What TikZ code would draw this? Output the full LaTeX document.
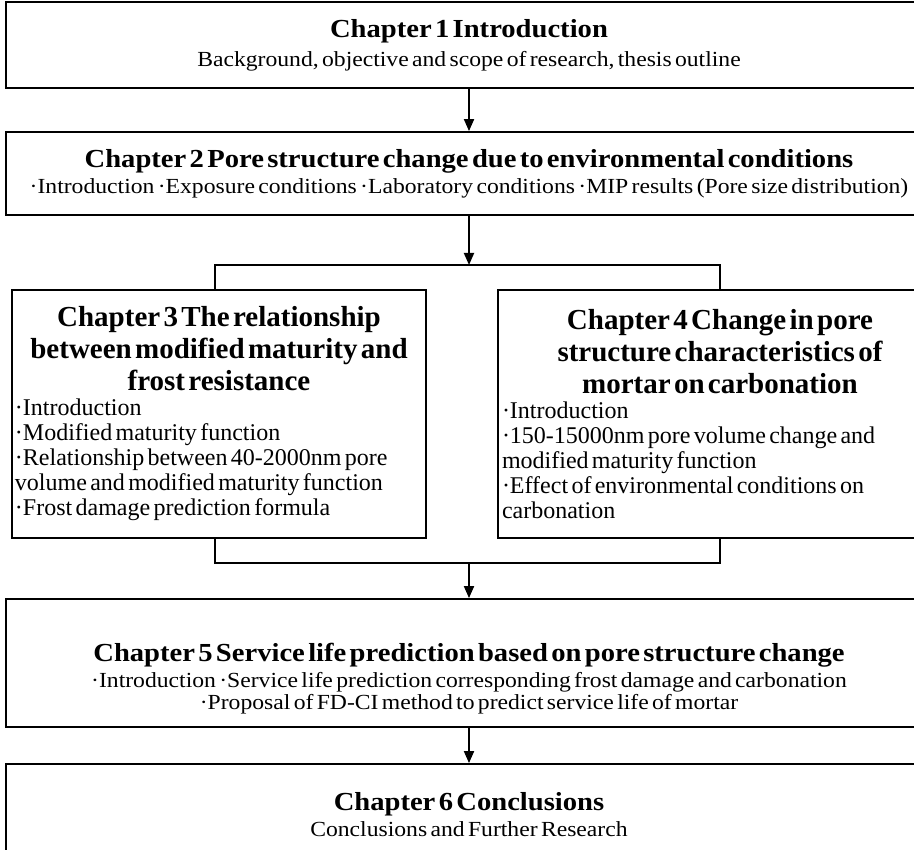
\documentclass[tikz,border=0pt]{standalone}
\usepackage{fontspec}
\setmainfont{Liberation Serif}
\newfontfamily\wideserif[FakeStretch=1.1, WordSpace=1.4]{Liberation Serif}
\newfontfamily\sideserif[WordSpace=1.5]{Liberation Serif}
\usetikzlibrary{arrows.meta,positioning,calc}

% text looks of the full-width chapter boxes and of the two side boxes
\newcommand\chaptitle{\wideserif\bfseries\fontsize{26}{28}\selectfont}
\newcommand\chapbody{\wideserif\mdseries\fontsize{21.5}{22}\selectfont}
\newcommand\sidetitle{\sideserif\bfseries\fontsize{29}{32}\selectfont}
\newcommand\sidebody{\normalfont\fontsize{24}{25}\selectfont}

\begin{document}
\begin{tikzpicture}[
  x=1pt, y=1pt,
  >={Triangle[width=10pt,length=12pt]},
  every node/.style={inner sep=0pt},
  wide/.style={draw, line width=1.8pt, minimum width=926pt, text width=900pt, align=center},
  side/.style={draw, line width=1.8pt, minimum height=248pt, align=left},
  link/.style={line width=1.8pt},
  flow/.style={line width=1.8pt, ->}
]
\useasboundingbox (0,0) rectangle (914,-850);
\clip (0,0) rectangle (914,-850);

% full-width chapters (right edges run off the page)
\node[wide, minimum height=86pt] (ch1) at (469,-45)
  {\chaptitle Chapter 1 Introduction\par\vspace{7pt}
   \chapbody Background, objective and scope of research, thesis outline\par};
\node[wide, minimum height=83pt] (ch2) at (469,-173.5)
  {\chaptitle Chapter 2 Pore structure change due to environmental conditions\par\vspace{4pt}
   \chapbody ·Introduction ·Exposure conditions ·Laboratory conditions ·MIP results (Pore size distribution)\par};

% the two parallel chapters
\node[side, minimum width=414pt, text width=408pt] (ch3) at (219,-414)
  {{\centering\sidetitle Chapter 3 The relationship\\ between modified maturity and\\ frost resistance\par}
   \sidebody ·Introduction\\ ·Modified maturity function\\ ·Relationship between 40-2000nm pore\\
   volume and modified maturity function\\ ·Frost damage prediction formula\par};
\node[side, minimum width=444pt, text width=436pt] (ch4) at (720,-414)
  {{\centering\sidetitle Chapter 4 Change in pore\\ structure characteristics of\\ mortar on carbonation\par}
   \sidebody ·Introduction\\ ·150-15000nm pore volume change and\\ modified maturity function\\
   ·Effect of environmental conditions on\\ carbonation\par};

% the strut pushes chapter 5's lines into the lower half of its box
\node[wide, minimum height=128pt] (ch5) at (469,-663)
  {\chaptitle\rule{0pt}{50pt}Chapter 5 Service life prediction based on pore structure change\par\vspace{4pt}
   \chapbody ·Introduction ·Service life prediction corresponding frost damage and carbonation\\
   ·Proposal of FD-CI method to predict service life of mortar\par};
\node[wide, minimum height=102pt] (ch6) at (469,-815)
  {\chaptitle Chapter 6 Conclusions\par\vspace{4pt}
   \chapbody Conclusions and Further Research\par};

% split and merge rails
\coordinate (split) at (469,-265);
\coordinate (merge) at (469,-563);
\coordinate (lrail) at (215,-265);

\draw[flow] (ch1.south) -- (ch2.north);
\draw[flow] (ch2.south) -- (split);
\draw[link] (lrail |- ch3.north) |- (ch4.north |- split) -- (ch4.north);
\draw[link] (lrail |- ch3.south) |- (ch4.south |- merge) -- (ch4.south);
\draw[flow] (merge) -- (ch5.north);
\draw[flow] (ch5.south) -- (ch6.north);

\end{tikzpicture}
\end{document}
